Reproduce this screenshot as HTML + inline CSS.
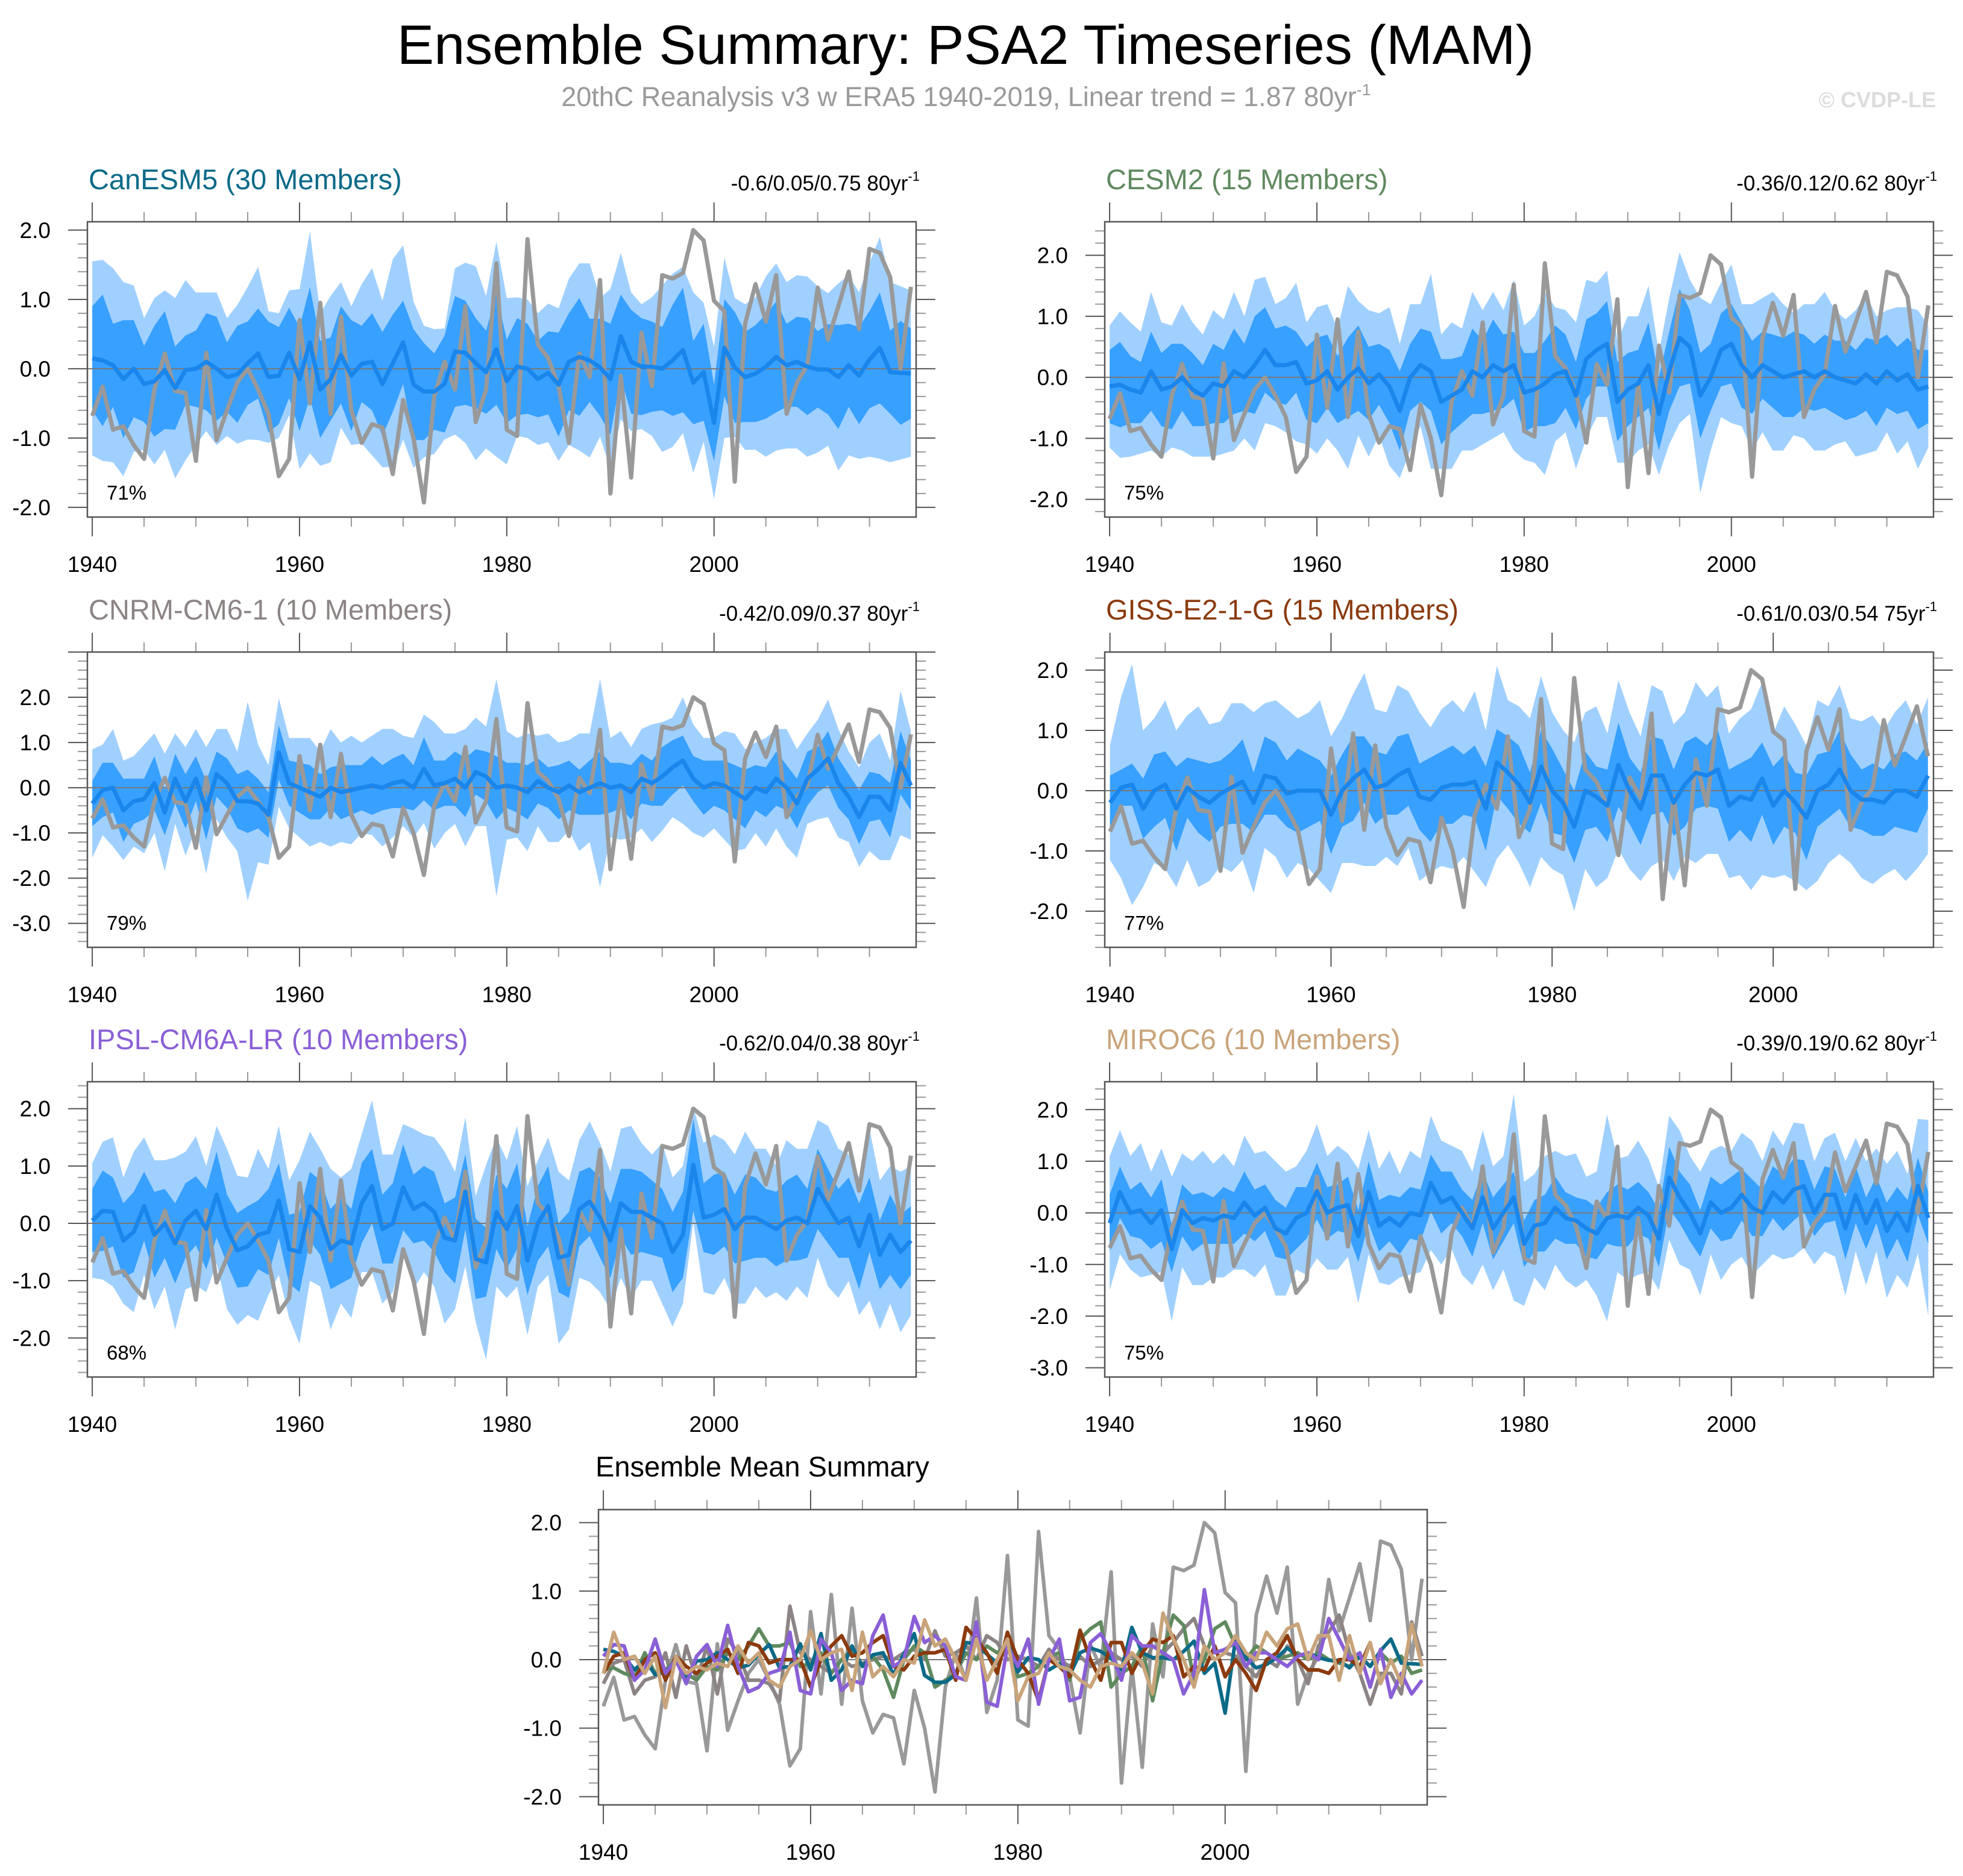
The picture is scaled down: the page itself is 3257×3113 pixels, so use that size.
<!DOCTYPE html>
<html><head><meta charset="utf-8"><title>Ensemble Summary: PSA2 Timeseries (MAM)</title>
<style>
html,body{margin:0;padding:0;background:#fff;}
svg{display:block;font-family:"Liberation Sans",Arial,sans-serif;}
</style></head>
<body>
<svg id="chart" width="3257" height="3113" viewBox="0 0 3257 3113" xmlns="http://www.w3.org/2000/svg">
<rect width="3257" height="3113" fill="#fff"/>
<text x="1602" y="106" font-size="92" text-anchor="middle" fill="#000">Ensemble Summary: PSA2 Timeseries (MAM)</text>
<text x="1603" y="176" font-size="45" text-anchor="middle" fill="#9a9a9a">20thC Reanalysis v3 w ERA5 1940-2019, Linear trend = 1.87 80yr<tspan font-size="27" dy="-18">-1</tspan></text>
<text x="3212" y="178" font-size="36" font-weight="bold" text-anchor="end" fill="#dcdcdc">© CVDP-LE</text>
<g id="panels"></g>
</svg>
<script>
const obs = [-0.68,-0.26,-0.88,-0.83,-1.1,-1.3,-0.3,0.22,-0.32,-0.35,
-1.33,0.23,-1.03,-0.6,-0.2,0.0,-0.3,-0.65,-1.55,-1.3,
0.7,-0.5,0.95,-0.65,0.75,-0.6,-1.07,-0.8,-0.85,-1.52,
-0.45,-1.0,-1.93,-0.4,0.1,-0.3,0.9,-0.77,-0.3,1.52,
-0.88,-0.97,1.87,0.35,0.15,-0.25,-1.07,0.22,-0.12,1.28,
-1.8,-0.1,-1.57,0.52,-0.25,1.35,1.3,1.38,2.0,1.85,
0.98,0.83,-1.63,0.65,1.22,0.68,1.35,-0.65,-0.2,0.05,
1.17,0.42,0.9,1.4,0.57,1.73,1.67,1.32,0.0,1.18];

const canMean = [0.15,0.12,0.05,-0.15,0.0,-0.22,-0.18,-0.02,-0.28,-0.02,
0.0,0.1,0.0,-0.12,-0.08,0.08,0.22,-0.12,-0.1,0.23,
-0.15,0.38,-0.3,-0.15,0.2,-0.1,0.07,0.1,-0.22,0.08,
0.38,-0.23,-0.33,-0.33,-0.22,0.25,0.23,0.08,-0.05,0.28,
-0.18,0.03,0.0,-0.15,-0.06,-0.23,0.1,0.17,0.12,0.02,
-0.15,0.47,0.1,0.03,0.03,0.0,0.12,0.27,-0.2,-0.05,
-0.78,0.3,0.02,-0.12,-0.07,0.03,0.17,0.05,0.1,0.03,
-0.01,-0.01,-0.12,0.05,-0.1,0.13,0.3,-0.05,-0.06,-0.07];
const canInner = [0.75,0.95,0.6,0.85,0.7,0.55,0.8,0.85,0.6,0.5,
0.55,0.7,0.75,0.5,0.7,0.6,0.65,0.8,0.7,0.65,
0.75,0.8,0.7,0.6,0.7,0.8,0.55,0.7,0.75,0.7,
0.6,0.8,0.7,0.55,0.7,0.8,0.75,0.65,0.6,0.8,
0.6,0.7,0.65,0.55,0.6,0.75,0.7,0.85,0.6,0.7,
0.8,0.6,0.75,0.7,0.65,0.6,0.8,0.9,0.6,0.7,
0.55,0.7,0.8,0.65,0.7,0.75,0.8,0.6,0.65,0.7,
0.55,0.65,0.75,0.6,0.7,0.7,0.8,0.6,0.75,0.65];
const canOuter = [1.4,1.45,1.4,1.4,1.2,0.95,1.2,1.15,1.3,1.3,
1.1,1.0,1.1,0.85,1.0,1.1,1.25,0.95,0.9,0.9,
1.3,1.6,1.1,1.2,1.05,1.0,1.15,1.35,1.2,1.5,
1.4,1.2,0.95,0.9,0.8,1.2,1.3,1.4,1.1,1.55,
1.2,1.0,1.0,0.95,1.0,1.1,1.2,1.35,1.4,1.0,
1.3,1.2,1.0,0.9,1.0,1.2,1.25,1.2,1.3,1.0,
1.1,1.3,1.0,1.05,1.1,1.3,1.35,1.2,1.25,1.3,
1.2,1.1,1.35,1.3,1.2,1.4,1.6,1.3,1.25,1.2];

const cesmMean = [-0.15,-0.12,-0.2,-0.25,0.1,-0.2,-0.15,0.0,-0.2,-0.3,
-0.1,-0.15,0.1,0.0,0.2,0.45,0.2,0.2,0.25,-0.1,
-0.05,0.1,-0.2,0.0,0.15,-0.1,0.05,-0.15,-0.55,0.0,
0.2,0.1,-0.4,-0.3,-0.2,0.1,0.0,0.2,0.1,0.2,
-0.25,-0.2,-0.1,0.05,0.1,-0.3,0.3,0.45,0.55,-0.4,
-0.2,-0.1,0.2,-0.6,0.1,0.65,0.5,-0.3,0.0,0.45,
0.55,0.2,0.0,0.2,0.1,0.0,0.05,0.1,0.0,0.1,
0.0,-0.05,-0.1,0.05,-0.1,0.1,-0.05,0.05,-0.2,-0.15];
const cesmInner = [0.6,0.7,0.55,0.5,0.65,0.6,0.7,0.55,0.6,0.5,
0.65,0.6,0.7,0.55,0.8,0.7,0.6,0.65,0.5,0.6,
0.7,0.6,0.55,0.65,0.7,0.6,0.5,0.6,0.65,0.55,
0.6,0.65,0.7,0.6,0.55,0.7,0.6,0.75,0.6,0.55,
0.65,0.6,0.7,0.8,0.6,0.55,0.65,0.6,0.7,0.65,
0.6,0.55,0.7,0.6,0.65,0.8,0.6,0.7,0.55,0.6,
0.65,0.7,0.6,0.55,0.6,0.65,0.7,0.6,0.55,0.6,
0.6,0.65,0.55,0.6,0.7,0.6,0.55,0.6,0.65,0.6];
const cesmOuter = [1.0,1.2,1.1,1.0,1.3,1.1,1.0,1.2,1.1,1.0,
1.2,1.1,1.3,1.0,1.4,1.2,1.0,1.1,1.3,1.0,
1.2,1.1,1.0,1.5,1.1,1.2,1.0,1.3,1.1,1.2,
1.0,1.6,1.1,1.2,1.0,1.3,1.1,1.2,1.0,1.4,
1.1,1.2,1.5,1.1,1.0,1.2,1.3,1.1,1.2,1.0,
1.2,1.1,1.3,1.0,1.2,1.4,1.1,1.6,1.2,1.1,
1.3,1.0,1.2,1.1,1.3,1.2,1.0,1.1,1.2,1.3,
1.1,1.0,1.2,1.3,1.1,1.0,1.2,1.1,1.3,1.0];

const cnrmMean = [-0.35,-0.05,0.0,-0.5,-0.3,-0.25,0.1,-0.55,0.2,-0.3,
0.2,-0.5,0.3,0.1,-0.3,-0.3,-0.35,-0.6,0.78,0.1,
0.0,-0.1,-0.2,0.0,-0.1,-0.05,0.0,0.05,0.0,0.1,
0.15,0.0,0.42,0.05,0.1,0.2,0.0,0.35,0.25,0.0,
0.05,0.0,-0.1,0.15,0.0,-0.1,0.05,-0.1,0.0,0.1,
0.0,0.05,-0.1,0.2,0.1,0.25,0.45,0.6,0.2,0.0,
0.1,0.05,-0.1,-0.25,0.0,-0.1,0.2,0.0,-0.35,0.2,
0.4,0.65,0.1,-0.2,-0.65,-0.2,-0.2,-0.5,0.55,0.05];
const cnrmInner = [0.5,0.6,0.55,0.7,0.5,0.45,0.6,0.5,0.55,0.6,
0.5,0.65,0.5,0.55,0.6,0.7,0.55,0.5,0.6,0.5,
0.55,0.6,0.5,0.45,0.6,0.55,0.5,0.65,0.5,0.55,
0.6,0.5,0.7,0.55,0.5,0.6,0.65,0.5,0.55,0.7,
0.5,0.55,0.6,0.5,0.45,0.6,0.55,0.5,0.6,0.7,
0.55,0.5,0.6,0.55,0.5,0.65,0.6,0.55,0.5,0.6,
0.5,0.55,0.6,0.65,0.5,0.55,0.6,0.5,0.55,0.6,
0.5,0.6,0.55,0.5,0.6,0.55,0.5,0.6,0.7,0.55];
const cnrmOuter = [1.2,1.0,1.3,1.1,1.0,1.2,1.1,1.3,1.0,1.2,
1.1,1.4,1.0,1.2,1.1,2.2,1.3,1.1,1.2,1.0,
1.1,1.2,1.0,1.3,1.1,1.2,1.0,1.1,1.3,1.2,
1.0,1.1,1.2,1.4,1.1,1.0,1.3,1.2,1.1,2.4,
1.2,1.1,1.3,1.0,1.2,1.1,1.0,1.3,1.2,2.3,
1.1,1.2,1.0,1.1,1.3,1.2,1.1,1.4,1.2,1.1,
1.0,1.2,1.3,1.1,1.0,1.2,1.1,1.3,1.2,1.0,
1.1,1.3,1.2,1.0,1.1,1.2,1.4,1.1,1.6,1.2];

const gissMean = [-0.2,0.05,0.1,-0.3,0.0,0.1,-0.3,0.05,-0.1,-0.2,
-0.05,0.05,0.15,-0.2,0.25,0.2,-0.05,0.0,0.0,0.0,
-0.4,0.0,0.2,0.35,0.05,0.1,0.25,0.35,-0.1,-0.15,
0.05,0.1,0.1,0.15,-0.3,0.47,0.3,0.1,-0.2,0.4,
0.0,-0.2,-0.6,0.0,-0.1,-0.25,0.43,0.0,-0.3,0.25,
0.25,-0.2,0.1,0.3,0.25,0.35,-0.25,-0.1,-0.15,0.2,
-0.25,0.0,-0.2,-0.45,0.0,0.1,0.35,0.0,-0.15,-0.15,
-0.2,0.0,0.0,-0.1,0.25];
const gissInner = [0.45,0.3,0.35,0.5,0.6,0.55,0.7,0.5,0.6,0.65,
0.55,0.6,0.7,0.5,0.65,0.6,0.55,0.7,0.6,0.5,
0.65,0.6,0.7,0.55,0.6,0.5,0.65,0.6,0.55,0.7,
0.6,0.65,0.5,0.6,0.7,0.55,0.6,0.65,0.5,0.6,
0.7,0.55,0.6,0.65,0.5,0.6,0.7,0.55,0.6,0.65,
0.6,0.55,0.7,0.6,0.5,0.65,0.6,0.55,0.7,0.6,
0.65,0.6,0.5,0.7,0.6,0.55,0.65,0.6,0.5,0.6,
0.55,0.6,0.65,0.6,0.55];
const gissOuter = [0.95,1.5,2.0,1.3,1.2,1.4,1.3,1.2,1.5,1.3,
1.2,1.4,1.3,1.5,1.2,1.3,1.4,1.2,1.3,1.5,
1.3,1.2,1.4,1.6,1.3,1.2,1.5,1.3,1.4,1.2,
1.3,1.4,1.2,1.5,1.3,1.6,1.2,1.3,1.4,1.5,
1.3,1.2,1.4,1.3,1.5,1.2,1.4,1.3,1.2,1.5,
1.4,1.3,1.2,1.5,1.3,1.4,1.2,1.3,1.5,1.6,
1.2,1.4,1.3,1.2,1.5,1.3,1.4,1.2,1.3,1.4,
1.2,1.3,1.5,1.2,1.3];

const ipslMean = [0.05,0.22,0.2,-0.3,-0.15,0.3,-0.2,0.0,-0.35,0.05,
0.22,-0.1,0.5,-0.1,-0.47,-0.4,-0.2,-0.15,0.4,-0.45,
-0.5,0.3,0.1,-0.45,-0.3,-0.35,0.35,0.65,-0.1,0.0,
0.63,0.25,0.35,0.2,-0.25,-0.3,0.55,-0.62,-0.68,0.2,
-0.1,0.3,-0.65,0.0,0.3,-0.6,-0.55,0.25,0.38,0.1,
-0.3,0.35,0.2,0.2,0.1,0.0,-0.5,-0.2,1.02,0.1,
0.15,0.25,-0.1,0.1,0.1,0.0,-0.1,0.05,0.1,0.0,
0.6,0.3,0.0,0.1,-0.4,0.15,-0.55,-0.2,-0.5,-0.3];
const ipslInner = [0.55,0.7,0.6,0.65,0.7,0.6,0.75,0.6,0.7,0.65,
0.6,0.7,0.75,0.6,0.65,0.7,0.6,0.75,0.65,0.6,
0.7,0.6,0.65,0.7,0.75,0.6,0.7,0.65,0.6,0.7,
0.75,0.6,0.65,0.7,0.6,0.75,0.65,0.7,0.6,0.65,
0.7,0.75,0.6,0.65,0.7,0.6,0.75,0.65,0.6,0.7,
0.65,0.6,0.75,0.7,0.65,0.6,0.7,0.75,0.8,0.6,
0.7,0.65,0.6,0.75,0.7,0.6,0.65,0.7,0.75,0.6,
0.7,0.65,0.6,0.7,0.75,0.65,0.6,0.7,0.65,0.6];
const ipslOuter = [1.0,1.2,1.3,1.1,1.4,1.2,1.3,1.1,1.5,1.2,
1.3,1.1,1.2,1.4,1.3,1.2,1.5,1.1,1.3,1.2,
1.6,1.3,1.2,1.4,1.1,1.3,1.2,1.5,1.3,1.2,
1.1,1.4,1.2,1.3,1.5,1.2,1.3,1.1,1.7,1.3,
1.2,1.4,1.3,1.1,1.2,1.5,1.3,1.2,1.4,1.3,
1.2,1.3,1.5,1.2,1.1,1.4,1.3,1.2,1.0,1.3,
1.4,1.2,1.3,1.5,1.2,1.3,1.1,1.4,1.2,1.3,
1.2,1.4,1.3,1.1,1.2,1.5,1.3,1.2,1.4,1.3];

const mirocMean = [-0.2,0.4,0.0,0.05,-0.2,0.05,-0.7,0.05,-0.2,-0.1,
-0.15,-0.05,-0.1,0.2,-0.05,0.1,-0.3,-0.4,-0.1,0.0,
0.42,0.0,0.1,0.15,-0.45,0.4,-0.25,-0.1,-0.25,0.0,
-0.05,0.58,0.2,0.3,0.0,-0.3,0.3,-0.3,0.0,0.3,
-0.6,-0.25,-0.2,0.1,-0.1,-0.15,-0.3,-0.4,-0.1,-0.05,
-0.1,0.1,-0.05,-0.5,0.68,0.3,0.0,-0.4,0.2,0.0,
0.1,0.35,0.1,0.0,0.4,0.2,0.45,0.52,0.0,0.35,
0.35,-0.3,0.35,-0.2,0.25,-0.35,0.0,-0.35,0.52,-0.1];
const mirocInner = [0.55,0.5,0.45,0.55,0.5,0.6,0.45,0.5,0.55,0.5,
0.45,0.55,0.5,0.6,0.5,0.45,0.55,0.5,0.6,0.5,
0.55,0.5,0.45,0.55,0.5,0.6,0.5,0.45,0.55,0.5,
0.5,0.55,0.6,0.5,0.45,0.55,0.5,0.6,0.55,0.5,
0.45,0.5,0.55,0.6,0.5,0.45,0.55,0.5,0.5,0.6,
0.55,0.5,0.45,0.55,0.6,0.5,0.55,0.45,0.5,0.55,
0.6,0.5,0.55,0.45,0.5,0.55,0.6,0.5,0.45,0.55,
0.5,0.6,0.55,0.5,0.45,0.55,0.5,0.6,0.55,0.5];
const mirocOuter = [1.3,1.2,1.1,1.3,1.0,1.2,1.4,1.1,1.2,1.3,
1.1,1.2,1.0,1.3,1.2,1.1,1.3,1.2,1.0,1.2,
1.3,1.1,1.2,1.0,1.3,1.2,1.1,1.3,1.0,1.2,
1.1,1.3,1.2,1.0,1.2,1.1,1.3,1.2,1.1,2.0,
1.2,1.0,1.3,1.1,1.2,1.3,1.0,1.2,2.0,1.1,
1.2,1.3,1.1,1.0,1.2,1.3,1.1,1.2,1.0,1.3,
1.1,1.2,1.3,1.0,1.2,1.1,1.3,1.2,1.0,1.1,
1.2,1.3,1.1,1.2,1.0,1.3,1.2,1.1,1.3,1.9];

const panelTitles = ["CanESM5 (30 Members)","CESM2 (15 Members)","CNRM-CM6-1 (10 Members)","GISS-E2-1-G (15 Members)","IPSL-CM6A-LR (10 Members)","MIROC6 (10 Members)"];
const panelStats = ["-0.6/0.05/0.75 80yr","-0.36/0.12/0.62 80yr","-0.42/0.09/0.37 80yr","-0.61/0.03/0.54 75yr","-0.62/0.04/0.38 80yr","-0.39/0.19/0.62 80yr"];
const panelPct = ["71%","75%","79%","77%","68%","75%"];
const xTickLabels = [1940,1960,1980,2000];

const NS = "http://www.w3.org/2000/svg";
const root = document.getElementById('panels');
function mk(tag, attrs, parent) {
  const e = document.createElementNS(NS, tag);
  for (const k in attrs) e.setAttribute(k, attrs[k]);
  (parent || root).appendChild(e);
  return e;
}
const fmt = v => (Math.abs(v) < 1e-9 ? "0.0" : v.toFixed(1));

function axes(g, P) {
  const xs = yr => P.x0 + (yr - P.xmin) / (P.xmax - P.xmin) * P.w;
  const ys = v => P.y0 + (P.ymax - v) / (P.ymax - P.ymin) * P.h;
  return {xs, ys};
}

function drawFrame(g, P, sc, yTicks) {
  const {xs, ys} = sc;
  const bx = P.x0, by = P.y0, bw = P.w, bh = P.h;
  for (let v = Math.ceil(P.ymin * 5) / 5; v <= P.ymax + 1e-9; v += 0.2) {
    const y = ys(v);
    const major = Math.abs(v - Math.round(v)) < 1e-6;
    const L = major ? 32 : 16;
    const t1 = mk('line', {x1: bx - L, x2: bx, y1: y, y2: y, stroke: major ? '#555' : '#999', 'stroke-width': 2}, g);
    
    
    const t2 = mk('line', {x1: bx + bw, x2: bx + bw + L, y1: y, y2: y, stroke: major ? '#555' : '#999', 'stroke-width': 2}, g);
    
    
  }
  yTicks.forEach(v => {
    const t = mk('text', {x: bx - 61, y: ys(v) + 13, 'font-size': 37, 'text-anchor': 'end', fill: '#000'}, g);
    t.textContent = fmt(v);
    
    
  });
  for (let yr = 1940; yr <= P.xmax; yr += 5) {
    const x = xs(yr);
    const major = (yr % 20) === 0;
    const L = major ? 32 : 16;
    const a = mk('line', {x1: x, x2: x, y1: by - L, y2: by, stroke: major ? '#555' : '#999', 'stroke-width': 2}, g);
    
    
    const b = mk('line', {x1: x, x2: x, y1: by + bh, y2: by + bh + L, stroke: major ? '#555' : '#999', 'stroke-width': 2}, g);
    
    
  }
  xTickLabels.forEach(yr => {
    const t = mk('text', {x: xs(yr), y: by + bh + 91, 'font-size': 37, 'text-anchor': 'middle', fill: '#000'}, g);
    t.textContent = yr;
    
    
  });
  const box = mk('rect', {x: bx, y: by, width: bw, height: bh, fill: 'none', stroke: '#555', 'stroke-width': 2.5}, g);
  
  
}

function linePath(vals, sc) {
  return vals.map((v, i) => (i ? 'L' : 'M') + sc.xs(1940 + i).toFixed(1) + ',' + sc.ys(v).toFixed(1)).join('');
}
function bandPath(mean, spread, sc) {
  const up = mean.map((m, i) => sc.xs(1940 + i).toFixed(1) + ',' + sc.ys(m + spread[i]).toFixed(1));
  const dn = mean.map((m, i) => sc.xs(1940 + i).toFixed(1) + ',' + sc.ys(m - spread[i]).toFixed(1)).reverse();
  return 'M' + up.join('L') + 'L' + dn.join('L') + 'Z';
}

const cfgs = [
  {x0:145, y0:368, ymin:-2.14, ymax:2.12, ticks:[-2,-1,0,1,2], mean:canMean, inner:canInner, outer:canOuter, color:'#0b6a88', n:80},
  {x0:1833, y0:368, ymin:-2.29, ymax:2.55, ticks:[-2,-1,0,1,2], mean:cesmMean, inner:cesmInner, outer:cesmOuter, color:'#5f8a5f', n:80},
  {x0:145, y0:1082, ymin:-3.53, ymax:3.0, ticks:[-3,-2,-1,0,1,2], mean:cnrmMean, inner:cnrmInner, outer:cnrmOuter, color:'#8c8484', n:80},
  {x0:1833, y0:1082, ymin:-2.6, ymax:2.3, ticks:[-2,-1,0,1,2], mean:gissMean, inner:gissInner, outer:gissOuter, color:'#8b3a0e', n:75},
  {x0:145, y0:1795, ymin:-2.68, ymax:2.47, ticks:[-2,-1,0,1,2], mean:ipslMean, inner:ipslInner, outer:ipslOuter, color:'#8a5fd6', n:80},
  {x0:1833, y0:1795, ymin:-3.18, ymax:2.54, ticks:[-3,-2,-1,0,1,2], mean:mirocMean, inner:mirocInner, outer:mirocOuter, color:'#c9a47a', n:80}
];

cfgs.forEach((c, k) => {
  const g = mk('g', {});
  
  
  const P = {x0: c.x0, y0: c.y0, w: 1375, h: 490, ymin: c.ymin, ymax: c.ymax, xmin: 1939.53, xmax: 1939.5 + c.n};
  const sc = axes(g, P);
  const ob = obs.slice(0, c.n);
  const o = mk('path', {d: bandPath(c.mean, c.outer, sc), fill: '#a0d0ff', stroke: 'none'}, g);
  
  
  const i = mk('path', {d: bandPath(c.mean, c.inner, sc), fill: '#38a0ff', stroke: 'none'}, g);
  
  
  const z = mk('line', {x1: P.x0, x2: P.x0 + P.w, y1: sc.ys(0), y2: sc.ys(0), stroke: '#777', 'stroke-width': 2}, g);
  
  
  const ol = mk('path', {d: linePath(ob, sc), fill: 'none', stroke: '#999', 'stroke-width': 7, 'stroke-linejoin': 'round'}, g);
  
  
  const ml = mk('path', {d: linePath(c.mean, sc), fill: 'none', stroke: '#1a86ec', 'stroke-width': 7, 'stroke-linejoin': 'round'}, g);
  
  
  drawFrame(g, P, sc, c.ticks);
  const t = mk('text', {x: P.x0 + 2, y: P.y0 - 54, 'font-size': 47, fill: c.color}, g);
  t.textContent = panelTitles[k];
  
  
  const s = mk('text', {x: P.x0 + P.w + 6, y: P.y0 - 52, 'font-size': 35, 'text-anchor': 'end', fill: '#000'}, g);
  s.textContent = panelStats[k];
  const sup = mk('tspan', {'font-size': 22, dy: -16}, s);
  sup.textContent = '-1';
  
  
  const p = mk('text', {x: P.x0 + 32, y: P.y0 + P.h - 29, 'font-size': 33, fill: '#000'}, g);
  p.textContent = panelPct[k];
  
  
});

(function () {
  const g = mk('g', {});
  
  
  const P = {x0: 993, y0: 2505, w: 1375, h: 490, ymin: -2.12, ymax: 2.19, xmin: 1939.53, xmax: 2019.5};
  const sc = axes(g, P);
  const z = mk('line', {x1: P.x0, x2: P.x0 + P.w, y1: sc.ys(0), y2: sc.ys(0), stroke: '#777', 'stroke-width': 2}, g);
  
  
  const ol = mk('path', {d: linePath(obs, sc), fill: 'none', stroke: '#999', 'stroke-width': 6, 'stroke-linejoin': 'round'}, g);
  
  
  const order = [2, 1, 0, 3, 4, 5];
  order.forEach(k => {
    const c = cfgs[k];
    const l = mk('path', {d: linePath(c.mean, sc), fill: 'none', stroke: c.color, 'stroke-width': 6, 'stroke-linejoin': 'round'}, g);
    
    
  });
  drawFrame(g, P, sc, [-2, -1, 0, 1, 2]);
  const t = mk('text', {x: 988, y: 2450, 'font-size': 47, fill: '#000'}, g);
  t.textContent = 'Ensemble Mean Summary';
  
  
})();
</script>
</body></html>
